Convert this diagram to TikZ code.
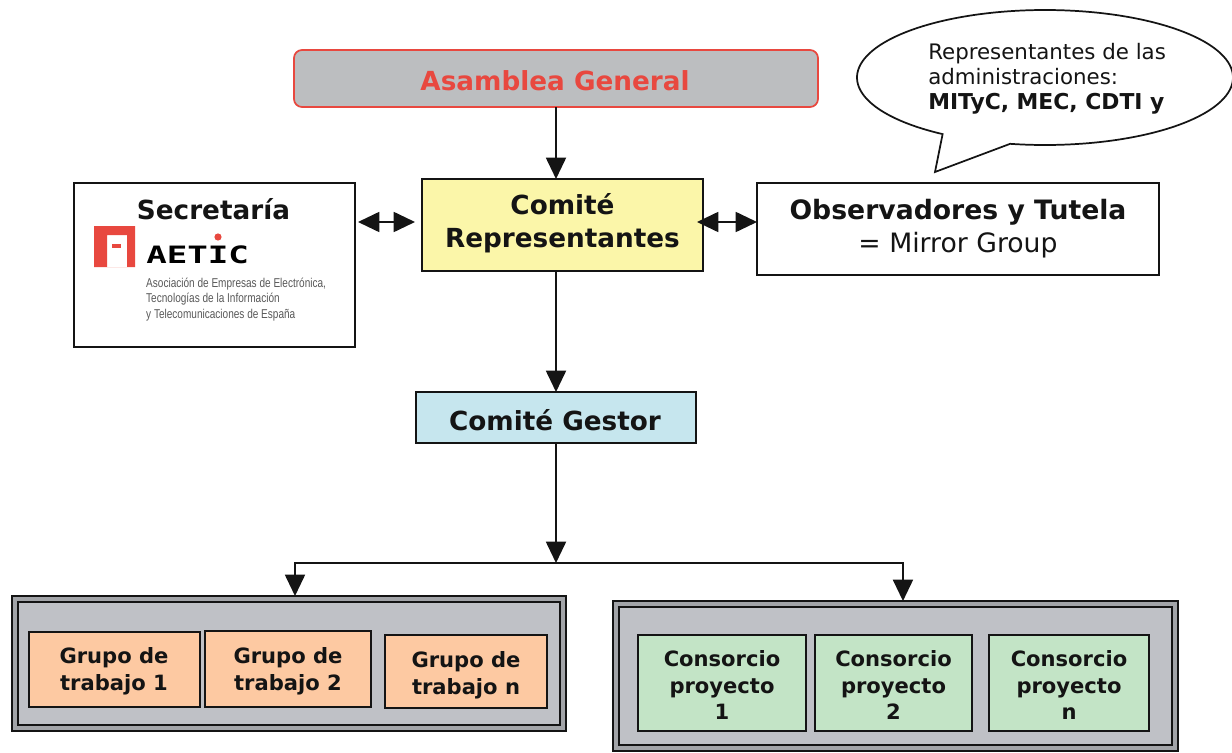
\documentclass[tikz,border=0pt]{standalone}
\usepackage{fontspec}
\setmainfont{DejaVu Sans}
\newfontfamily\logomono{DejaVu Sans Mono}
\newfontfamily\logosans{Liberation Sans}
\usetikzlibrary{arrows.meta,calc}
\definecolor{asamfill}{HTML}{BCBEC0}
\definecolor{asamred}{HTML}{E8483F}
\definecolor{repfill}{HTML}{FBF6A9}
\definecolor{gesfill}{HTML}{C6E6EE}
\definecolor{orfill}{HTML}{FDC9A2}
\definecolor{grfill}{HTML}{C3E4C6}
\definecolor{panel}{HTML}{BFC1C6}
\definecolor{ink}{HTML}{141414}
\newcommand{\fs}[2]{\fontsize{#1}{#2}\selectfont}
% \pxbox{name}{x1}{y1}{x2}{y2}{style}
\newcommand{\pxbox}[6]{%
  \pgfmathsetmacro{\bw}{(#4-#2)*0.75}%
  \pgfmathsetmacro{\bh}{(#5-#3)*0.75}%
  \node[#6,minimum width=\bw pt,minimum height=\bh pt] (#1) at ({(#2+#4)/2},{(#3+#5)/2}) {};}
\tikzset{
  x=0.75pt,y=-0.75pt,
  base/.style={draw=ink,line width=1.3pt,inner sep=0pt,outer sep=0pt},
  plainbox/.style={base,fill=white},
  repbox/.style={base,fill=repfill},
  gesbox/.style={base,line width=1pt,fill=gesfill},
  asambox/.style={base,draw=asamred,fill=asamfill,rounded corners=6pt},
  shell/.style={base,line width=1.6pt,fill=panel!85!black},
  panelbox/.style={base,line width=1.6pt,fill=panel},
  orbox/.style={base,line width=1pt,fill=orfill},
  grbox/.style={base,line width=1pt,fill=grfill},
  label/.style={inner sep=0pt,outer sep=0pt,align=center,text=ink},
  big/.style={label,font=\fs{19.7}{24.75}\bfseries},
  small/.style={label,font=\fs{15.8}{20}\bfseries},
  conn/.style={draw=ink,line width=1.4pt},
  head/.style={conn,-{Triangle[length=16pt,width=15pt]}},
  twohead/.style={conn,{Triangle[length=16pt,width=15pt]}-{Triangle[length=16pt,width=15pt]}},
  bubble/.style={draw=ink,line width=1.3pt,fill=white},
  logotxt/.style={inner sep=0pt,anchor=base west,text=black!65,xscale=0.785,font=\logosans\fs{9.6}{11}},
}
\begin{document}
\begin{tikzpicture}
\useasboundingbox (0,0) rectangle (1232,753);
\fill[white] (0,0) rectangle (1232,753);

% speech bubble
\draw[bubble,line join=miter] plot[domain=123:460.7,samples=140,smooth] ({1045+188*cos(\x)},{77.5+67.5*sin(\x)}) -- (935,172) -- cycle;
\node[inner sep=0pt,anchor=base west,align=left,text=ink,font=\fs{16}{18.75}] (bubbletext) at (928,109) {Representantes de las\\ administraciones:\\ {\fontsize{16.4}{18.75}\selectfont\bfseries MITyC, MEC, CDTI y}};

% boxes
\pxbox{asam}{294}{50}{818}{107}{asambox}
\node[big,text=asamred] (asamt) at (555,81) {Asamblea General};
\pxbox{rep}{422}{179}{703}{271}{repbox}
\node[big] (rept) at (562.5,223) {Comité\\ Representantes};
\pxbox{sec}{74}{183}{355}{347}{plainbox}
\node[big] (sectxt) at (213.5,209) {Secretaría};
\pxbox{obs}{757}{183}{1159}{275}{plainbox}
\node[big,font=\fs{20}{24.75}] (obst) at (958,229) {\textbf{Observadores y Tutela}\\ = Mirror Group};
\pxbox{ges}{416}{392}{696}{443}{gesbox}
\node[big] (gest) at (555,420) {Comité Gestor};

% logo
\fill[asamred,even odd rule] (94,226) rectangle (135,267) (107,235) rectangle (127,267);
\fill[asamred] (112,244) rectangle (121,247.5);
\node[inner sep=0pt,anchor=base west,yscale=0.7,font=\logomono\fs{25.6}{26}\bfseries,text=black] (logoname) at (146,263) {AETIC};
\fill[asamred] (218,237) circle[radius=3.6];
\node[logotxt] (l1) at (146,287) {Asociación de Empresas de Electrónica,};
\node[logotxt] (l2) at (146,302) {Tecnologías de la Información};
\node[logotxt] (l3) at (146,318) {y Telecomunicaciones de España};

% groups
\pxbox{gshell}{12}{596}{566}{731}{shell}
\pxbox{gpanel}{18}{602}{560}{725}{panelbox}
\pxbox{g1}{29}{632}{200}{707}{orbox}
\node[small] (g1t) at (114,671.5) {Grupo de\\ trabajo 1};
\pxbox{g2}{205}{631}{371}{707}{orbox}
\node[small] (g2t) at (288,671.5) {Grupo de\\ trabajo 2};
\pxbox{g3}{385}{635}{547}{708}{orbox}
\node[small] (g3t) at (466,675) {Grupo de\\ trabajo n};

\pxbox{cshell}{613}{601}{1178}{751}{shell}
\pxbox{cpanel}{619}{607}{1172}{745}{panelbox}
\pxbox{c1}{638}{635}{806}{731}{grbox}
\node[small] (c1t) at (722,685) {Consorcio\\ proyecto\\ 1};
\pxbox{c2}{815}{635}{972}{731}{grbox}
\node[small] (c2t) at (893.5,685) {Consorcio\\ proyecto\\ 2};
\pxbox{c3}{989}{635}{1149}{731}{grbox}
\node[small] (c3t) at (1069,685) {Consorcio\\ proyecto\\ n};

% connectors
\coordinate (junc) at (556,563);
\draw[head] (asam.south) -- (asam.south |- rep.north);
\draw[head] (ges.north |- rep.south) -- (ges.north);
\draw[head] (ges.south) -- (ges.south |- junc);
\draw[head] (junc) -| ([xshift=4.5pt]gshell.north);
\draw[head] (junc) -| ([xshift=5.6pt]cshell.north);
\draw[twohead,shorten <=2.25pt,shorten >=5.25pt] (sec.east |- 0,222) -- (rep.west |- 0,222);
\draw[twohead,shorten <=-4.5pt] (rep.east |- 0,222) -- (obs.west |- 0,222);
\end{tikzpicture}
\end{document}
